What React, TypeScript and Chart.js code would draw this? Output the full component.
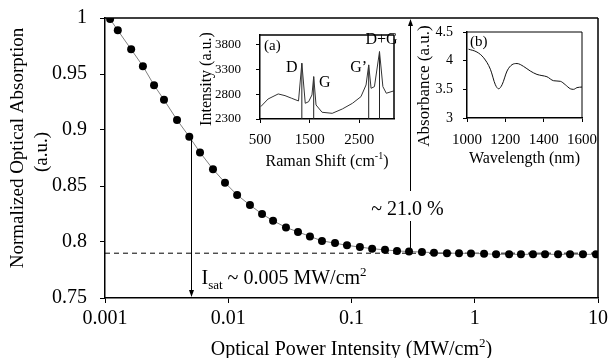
import React, { useEffect, useRef } from "react";
import { Chart, registerables } from "chart.js";
Chart.register(...registerables);

const SERIF = "'Liberation Serif', 'Times New Roman', serif";

// ---- Main chart data ----
const intensity = [
  0.0011, 0.00127, 0.00163, 0.00203, 0.0025, 0.00301, 0.00384, 0.00483, 0.0059, 0.00752,
  0.00941, 0.0118, 0.015, 0.0188, 0.0231, 0.0294, 0.0368, 0.046, 0.0576, 0.0735,
  0.0919, 0.117, 0.147, 0.187, 0.234, 0.293, 0.373, 0.467, 0.595, 0.745,
  0.932, 1.19, 1.49, 1.9, 2.37, 2.97, 3.72, 4.74, 5.93, 7.55, 9.63,
];
const absorption = [
  0.999, 0.989, 0.972, 0.957, 0.94, 0.927, 0.909, 0.894, 0.88, 0.865,
  0.853, 0.842, 0.833, 0.825, 0.819, 0.813, 0.809, 0.805, 0.801, 0.799,
  0.797, 0.7955, 0.794, 0.793, 0.792, 0.7915, 0.791, 0.7905, 0.79, 0.79,
  0.7898, 0.7895, 0.789, 0.789, 0.789, 0.789, 0.789, 0.789, 0.789, 0.789, 0.789,
];
const xTicks = [0.001, 0.01, 0.1, 1, 10];
const yTicks = [0.75, 0.8, 0.85, 0.9, 0.95, 1];
const saturationLevel = 0.79;
const isatValue = 0.005;
const isatAbsorption = 0.894;
const modDepthX = 0.3;

// ---- Inset (a): Raman ----
const ramanShift = [
  514, 663, 867, 1004, 1139, 1276, 1343, 1412, 1480, 1547, 1582, 1629, 1751, 1955,
  2159, 2363, 2534, 2637, 2690, 2738, 2806, 2908, 2976, 3045, 3194,
];
const ramanIntensity = [
  2549, 2705, 2807, 2773, 2719, 2665, 3429, 2618, 2651, 2787, 3157, 2584, 2436, 2415,
  2503, 2618, 2752, 2989, 3395, 2922, 2955, 3664, 2955, 2821, 2868,
];
const ramanPeaks = [1343, 1582, 2690, 2908];
const ramanPeakTops = [3429, 3157, 3395, 3664];
const ramanPeakLabels = ["D", "G", "G\u2019", "D+G"];
const ramanXTicks = [500, 1500, 2500];
const ramanYTicks = [2300, 2800, 3300, 3800];

// ---- Inset (b): Absorbance ----
const wavelength = [
  1008, 1052, 1087, 1122, 1148, 1165, 1183, 1209, 1235, 1261, 1295, 1330, 1365, 1391,
  1417, 1452, 1487, 1513, 1539, 1556, 1574, 1600,
];
const absorbance = [
  4.2, 4.15, 4.05, 3.85, 3.58, 3.51, 3.58, 3.82, 3.93, 3.95, 3.9, 3.82, 3.76, 3.74,
  3.72, 3.65, 3.64, 3.58, 3.51, 3.5, 3.53, 3.54,
];
const absXTicks = [1000, 1200, 1400, 1600];
const absYTicks = [3, 3.5, 4, 4.5];

type Run = { t: string; size: number; dy?: number };

function drawRuns(ctx: CanvasRenderingContext2D, runs: Run[], x: number, y: number, align: "left" | "center") {
  let w = 0;
  runs.forEach((r) => {
    ctx.font = `${r.size}px ${SERIF}`;
    w += ctx.measureText(r.t).width;
  });
  let cx = align === "center" ? x - w / 2 : x;
  ctx.textAlign = "left";
  ctx.textBaseline = "alphabetic";
  ctx.fillStyle = "#000";
  runs.forEach((r) => {
    ctx.font = `${r.size}px ${SERIF}`;
    ctx.fillText(r.t, cx, y + (r.dy || 0));
    cx += ctx.measureText(r.t).width;
  });
}

function drawRotated(ctx: CanvasRenderingContext2D, text: string, x: number, y: number, size: number) {
  ctx.save();
  ctx.translate(x, y);
  ctx.rotate(-Math.PI / 2);
  ctx.font = `${size}px ${SERIF}`;
  ctx.fillStyle = "#000";
  ctx.textAlign = "center";
  ctx.textBaseline = "middle";
  ctx.fillText(text, 0, 0);
  ctx.restore();
}

function frame(ctx: CanvasRenderingContext2D, a: any, w: number, sides: string[]) {
  ctx.save();
  ctx.strokeStyle = "#000";
  ctx.lineWidth = w;
  ctx.beginPath();
  if (sides.includes("top")) { ctx.moveTo(a.left, a.top); ctx.lineTo(a.right, a.top); }
  if (sides.includes("right")) { ctx.moveTo(a.right, a.top); ctx.lineTo(a.right, a.bottom); }
  ctx.stroke();
  ctx.restore();
}

function fixedSize(dim: "width" | "height", size: number) {
  return (s: any) => {
    s[dim] = size;
    s.paddingTop = 0;
    s.paddingBottom = 0;
    s.paddingLeft = 0;
    s.paddingRight = 0;
  };
}

function axis(vals: number[], size: number, pad: number, tickLen: number, bw: number, fmt: (v: number) => string, extra: any = {}) {
  return {
    afterBuildTicks: (s: any) => {
      s.ticks = vals.map((v) => ({ value: v }));
    },
    ticks: {
      color: "#000",
      font: { family: SERIF, size },
      padding: pad,
      autoSkip: false,
      maxRotation: 0,
      minRotation: 0,
      callback: (v: any) => fmt(Number(v)),
    },
    grid: { display: true, drawOnChartArea: false, drawTicks: true, tickLength: tickLen, color: "#000", lineWidth: 1 },
    border: { display: true, color: "#000", width: bw },
    ...extra,
  };
}

function arrowHead(ctx: CanvasRenderingContext2D, x: number, tipY: number, dir: 1 | -1) {
  ctx.beginPath();
  ctx.moveTo(x, tipY);
  ctx.lineTo(x - 2.5, tipY - dir * 7);
  ctx.lineTo(x + 2.5, tipY - dir * 7);
  ctx.closePath();
  ctx.fill();
}

function mainConfig(): any {
  const decor = {
    id: "mainDecor",
    afterDraw(chart: any) {
      const ctx: CanvasRenderingContext2D = chart.ctx;
      const a = chart.chartArea;
      const xs = chart.scales.x;
      const ys = chart.scales.y;
      frame(ctx, a, 1.5, ["top", "right"]);
      ctx.save();
      ctx.strokeStyle = "#000";
      ctx.fillStyle = "#000";
      ctx.lineWidth = 1;
      // Isat arrow
      const ix = Math.round(xs.getPixelForValue(isatValue)) + 0.5;
      const iy1 = ys.getPixelForValue(isatAbsorption);
      const iy2 = ys.getPixelForValue(0.75);
      ctx.beginPath();
      ctx.moveTo(ix, iy1);
      ctx.lineTo(ix, iy2 - 4);
      ctx.stroke();
      arrowHead(ctx, ix, iy2 - 1, 1);
      drawRuns(
        ctx,
        [
          { t: "I", size: 20 },
          { t: "sat", size: 13, dy: 5 },
          { t: " ~ 0.005 MW/cm", size: 20 },
          { t: "2", size: 13, dy: -8 },
        ],
        ix + 10,
        a.bottom - 14,
        "left"
      );
      // modulation depth arrow
      const mx = Math.round(xs.getPixelForValue(modDepthX)) + 0.5;
      const my1 = ys.getPixelForValue(saturationLevel);
      const my2 = ys.getPixelForValue(1);
      ctx.beginPath();
      ctx.moveTo(mx, my1);
      ctx.lineTo(mx, 221);
      ctx.moveTo(mx, 191);
      ctx.lineTo(mx, my2 + 4);
      ctx.stroke();
      arrowHead(ctx, mx, my2 + 1, -1);
      drawRuns(ctx, [{ t: "~ 21.0 %", size: 20 }], mx - 3, 215, "center");
      // axis titles
      drawRotated(ctx, "Normalized Optical Absorption", 18, 148, 19);
      drawRotated(ctx, "(a.u.)", 42, 152, 19);
      drawRuns(
        ctx,
        [
          { t: "Optical Power Intensity (MW/cm", size: 20 },
          { t: "2", size: 13, dy: -8 },
          { t: ")", size: 20 },
        ],
        (a.left + a.right) / 2,
        355,
        "center"
      );
      ctx.restore();
    },
  };
  return {
    type: "scatter",
    data: {
      datasets: [
        {
          data: intensity.map((x, i) => ({ x, y: absorption[i] })),
          showLine: true,
          borderColor: "#808080",
          borderWidth: 1,
          pointRadius: 4,
          pointBackgroundColor: "#000",
          pointBorderColor: "#000",
          pointBorderWidth: 0,
        },
        {
          data: [
            { x: xTicks[0], y: saturationLevel },
            { x: xTicks[xTicks.length - 1], y: saturationLevel },
          ],
          showLine: true,
          borderColor: "#000",
          borderWidth: 1,
          borderDash: [5, 4],
          pointRadius: 0,
        },
      ],
    },
    options: {
      responsive: false,
      animation: false,
      devicePixelRatio: 1,
      layout: { padding: { left: 0, right: 10, top: 18, bottom: 0 } },
      plugins: { legend: { display: false }, tooltip: { enabled: false } },
      scales: {
        x: axis(xTicks, 20, 4, 5, 1.5, (v) => String(v), {
          type: "logarithmic",
          min: 0.001,
          max: 10,
          afterFit: fixedSize("height", 60),
        }),
        y: axis(yTicks, 20, 13, 5, 1.5, (v) => String(Number(v.toFixed(2))), {
          min: 0.75,
          max: 1,
          afterFit: fixedSize("width", 105),
        }),
      },
    },
    plugins: [decor],
  };
}

function ramanConfig(): any {
  const decor = {
    id: "ramanDecor",
    afterDraw(chart: any) {
      const ctx: CanvasRenderingContext2D = chart.ctx;
      const a = chart.chartArea;
      const xs = chart.scales.x;
      const ys = chart.scales.y;
      frame(ctx, a, 1.5, ["top", "right"]);
      ctx.save();
      drawRuns(ctx, [{ t: "(a)", size: 15 }], a.left + 4, a.top + 15, "left");
      const offs = [
        [-10, 9],
        [11, 10],
        [-10, 7],
        [2, -8],
      ];
      ramanPeaks.forEach((p, i) => {
        const px = xs.getPixelForValue(p) + offs[i][0];
        const py = ys.getPixelForValue(ramanPeakTops[i]) + offs[i][1];
        drawRuns(ctx, [{ t: ramanPeakLabels[i], size: 16 }], px, py, "center");
      });
      drawRotated(ctx, "Intensity (a.u.)", 17, 57, 16);
      drawRuns(
        ctx,
        [
          { t: "Raman Shift (cm", size: 16 },
          { t: "-1", size: 10, dy: -7 },
          { t: ")", size: 16 },
        ],
        (a.left + a.right) / 2,
        144,
        "center"
      );
      ctx.restore();
    },
  };
  const drops: any[] = [];
  ramanPeaks.forEach((p, i) => {
    drops.push({ x: p, y: ramanYTicks[0] }, { x: p, y: ramanPeakTops[i] }, { x: p, y: null });
  });
  return {
    type: "scatter",
    data: {
      datasets: [
        {
          data: ramanShift.map((x, i) => ({ x, y: ramanIntensity[i] })),
          showLine: true,
          borderColor: "#333",
          borderWidth: 1,
          pointRadius: 0,
        },
        {
          data: drops,
          showLine: true,
          spanGaps: false,
          borderColor: "#222",
          borderWidth: 1,
          pointRadius: 0,
        },
      ],
    },
    options: {
      responsive: false,
      animation: false,
      devicePixelRatio: 1,
      layout: { padding: { left: 0, right: 11, top: 13, bottom: 0 } },
      plugins: { legend: { display: false }, tooltip: { enabled: false } },
      scales: {
        x: axis(ramanXTicks, 15, 8, 4, 1.5, (v) => String(v), {
          min: 500,
          max: 3200,
          afterFit: fixedSize("height", 51),
        }),
        y: axis(ramanYTicks, 13, 15, 4, 1.5, (v) => String(v), {
          min: 2300,
          max: 4000,
          afterFit: fixedSize("width", 70),
        }),
      },
    },
    plugins: [decor],
  };
}

function absConfig(): any {
  const decor = {
    id: "absDecor",
    afterDraw(chart: any) {
      const ctx: CanvasRenderingContext2D = chart.ctx;
      const a = chart.chartArea;
      frame(ctx, a, 1, ["top", "right"]);
      ctx.save();
      drawRuns(ctx, [{ t: "(b)", size: 15 }], a.left + 3, a.top + 14, "left");
      drawRotated(ctx, "Absorbance (a.u.)", 10, 68, 17);
      drawRuns(ctx, [{ t: "Wavelength (nm)", size: 16 }], (a.left + a.right) / 2, 145, "center");
      ctx.restore();
    },
  };
  return {
    type: "scatter",
    data: {
      datasets: [
        {
          data: wavelength.map((x, i) => ({ x, y: absorbance[i] })),
          showLine: true,
          borderColor: "#111",
          borderWidth: 1,
          pointRadius: 0,
          cubicInterpolationMode: "monotone",
        },
      ],
    },
    options: {
      responsive: false,
      animation: false,
      devicePixelRatio: 1,
      layout: { padding: { left: 0, right: 23, top: 14, bottom: 0 } },
      plugins: { legend: { display: false }, tooltip: { enabled: false } },
      scales: {
        x: axis(absXTicks, 15, 9, 4, 1.5, (v) => String(v), {
          min: 1000,
          max: 1600,
          afterFit: fixedSize("height", 52),
        }),
        y: axis(absYTicks, 14, 10, 4, 1.5, (v) => String(v), {
          min: 3,
          max: 4.5,
          afterFit: fixedSize("width", 52),
        }),
      },
    },
    plugins: [decor],
  };
}

function ChartCanvas(props: { left: number; top: number; width: number; height: number; make: () => any }) {
  const ref = useRef<HTMLCanvasElement>(null);
  useEffect(() => {
    const chart = new Chart(ref.current as HTMLCanvasElement, props.make());
    return () => chart.destroy();
  }, []);
  return (
    <canvas
      ref={ref}
      width={props.width}
      height={props.height}
      style={{ position: "absolute", left: props.left, top: props.top, width: props.width, height: props.height }}
    />
  );
}

export default function App() {
  return (
    <div style={{ position: "absolute", left: 0, top: 0, width: 608, height: 358, background: "#fff", overflow: "hidden" }}>
      <ChartCanvas left={0} top={0} width={608} height={358} make={mainConfig} />
      <ChartCanvas left={190} top={22} width={215} height={148} make={ramanConfig} />
      <ChartCanvas left={415} top={18} width={190} height={152} make={absConfig} />
    </div>
  );
}
